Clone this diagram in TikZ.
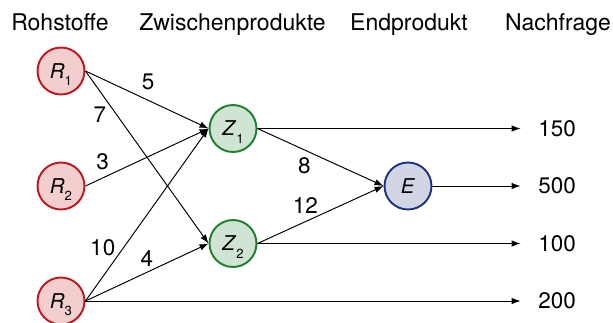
\documentclass[tikz,border=0pt]{standalone}
\usepackage{fontspec}
\setmainfont{TeX Gyre Heros}
\usetikzlibrary{arrows.meta,positioning}
\definecolor{rawred}{RGB}{190,25,30}
\definecolor{rawfill}{RGB}{242,206,206}
\definecolor{midgreen}{RGB}{30,128,45}
\definecolor{midfill}{RGB}{208,228,212}
\definecolor{endblue}{RGB}{30,50,130}
\definecolor{endfill}{RGB}{210,214,228}
\newcommand{\pname}[2]{\textit{#1}\raisebox{-4.2pt}[0pt][0pt]{\fontsize{7.5pt}{8pt}\selectfont #2}}
\tikzset{
  stage/.style={circle,draw,line width=1.1pt,minimum size=0.94cm,inner sep=0pt,
    font=\fontsize{11.6pt}{13pt}\selectfont},
  rawnode/.style={stage,draw=rawred,fill=rawfill},
  midnode/.style={stage,draw=midgreen,fill=midfill},
  endnode/.style={stage,draw=endblue,fill=endfill},
  heading/.style={anchor=base,inner sep=0pt,font=\fontsize{13.1pt}{15pt}\selectfont},
  demand/.style={anchor=west,inner sep=0pt,font=\fontsize{12.8pt}{15pt}\selectfont},
  weight/.style={inner sep=0pt,font=\fontsize{12.8pt}{15pt}\selectfont},
  flow/.style={-{Latex[length=1.8mm,width=1.3mm]},line width=0.55pt},
}

\begin{document}
\begin{tikzpicture}[x=0.02cm,y=-0.02cm]
  \useasboundingbox (0,0) rectangle (613,322);
  % headings
  \node[heading] (hraw) at (60,30.7) {Rohstoffe};
  \node[heading] (hmid) at (232.5,30.7) {Zwischenprodukte};
  \node[heading] (hend) at (409,30.7) {Endprodukt};
  \node[heading] (hdem) at (558,30.7) {Nachfrage};
  % stages
  \node[rawnode] (R1) at (61,71) {\pname{R}{1}};
  \node[rawnode] (R2) at (61,186) {\pname{R}{2}};
  \node[rawnode] (R3) at (61,301) {\pname{R}{3}};
  \node[midnode] (Z1) at (233,128.5) {\pname{Z}{1}};
  \node[midnode] (Z2) at (233,243.5) {\pname{Z}{2}};
  \node[endnode] (E) at (408,186) {\textit{E}};
  % demand
  \coordinate (d1) at (520.6,128.5);
  \coordinate (d2) at (520.6,186);
  \coordinate (d3) at (520.6,243.5);
  \coordinate (d4) at (520.6,301);
  \node[demand] (n1) at (538,128.5) {150};
  \node[demand] (n2) at (538,186) {500};
  \node[demand] (n3) at (538,243.5) {100};
  \node[demand] (n4) at (538,301) {200};
  % flows
  \draw[flow] (R1.east) -- node[weight,pos=0.51,yshift=0.36cm] {5} (Z1.west);
  \draw[flow] (R1.east) -- node[weight,pos=0.255,xshift=-0.34cm] {7} (Z2.west);
  \draw[flow] (R2.east) -- node[weight,pos=0.14,yshift=0.33cm] {3} (Z1.west);
  \draw[flow] (R3.east) -- node[weight,pos=0.307,xshift=-0.41cm] {10} (Z1.west);
  \draw[flow] (R3.east) -- node[weight,pos=0.5,yshift=0.28cm] {4} (Z2.west);
  \draw[flow] (Z1.east) -- node[weight,pos=0.373,yshift=-0.31cm] {8} (E.west);
  \draw[flow] (Z2.east) -- node[weight,pos=0.381,yshift=0.32cm] {12} (E.west);
  \draw[flow] (Z1.east) -- (d1);
  \draw[flow] (E.east) -- (d2);
  \draw[flow] (Z2.east) -- (d3);
  \draw[flow] (R3.east) -- (d4);
\end{tikzpicture}
\end{document}
